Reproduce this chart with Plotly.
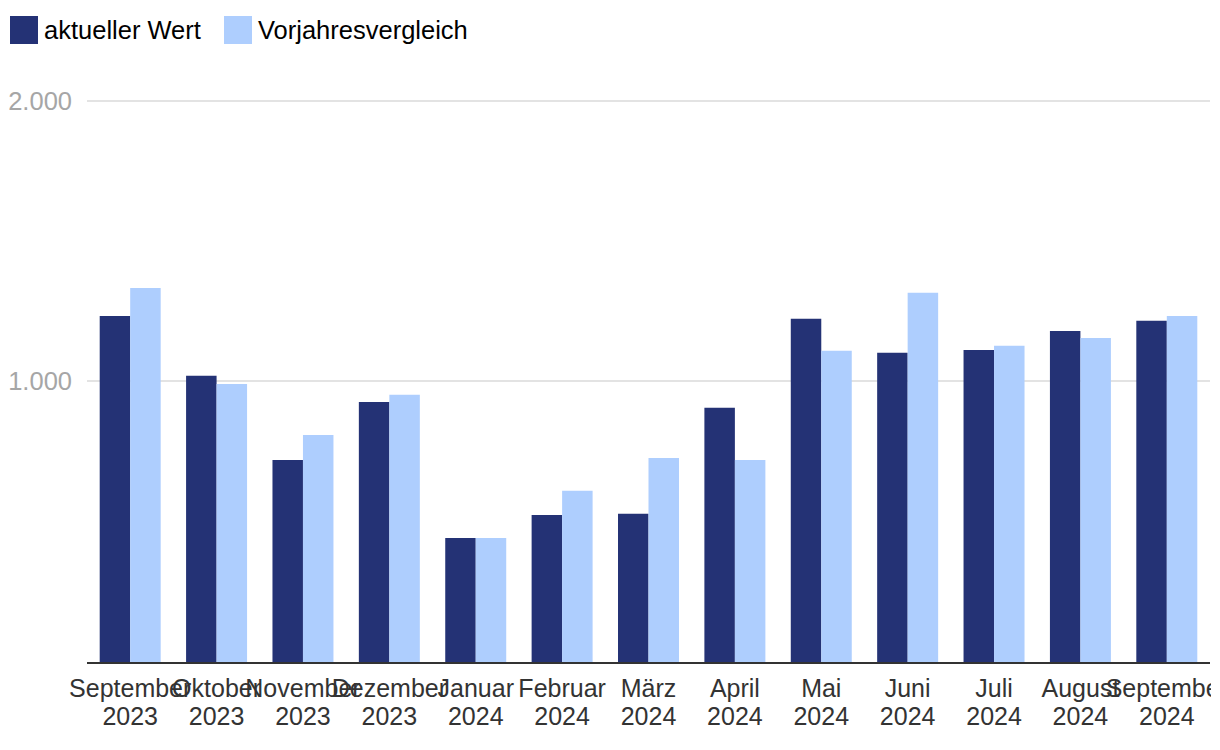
import plotly.graph_objects as go

months = ["September", "Oktober", "November", "Dezember", "Januar", "Februar",
          "März", "April", "Mai", "Juni", "Juli", "August", "September"]
years = ["2023", "2023", "2023", "2023", "2024", "2024", "2024", "2024",
         "2024", "2024", "2024", "2024", "2024"]
current = [1233, 1020, 720, 927, 442, 524, 528, 906, 1223, 1102, 1112, 1180, 1216]
previous = [1333, 991, 809, 952, 442, 610, 727, 720, 1109, 1316, 1127, 1155, 1233]
series_names = ["aktueller Wert", "Vorjahresvergleich"]
colors = ["#243275", "#aecefe"]
ytick_vals = [1000, 2000]

FONT = "Liberation Sans, Arial, sans-serif"
FS = 25.5
FS_TICK = 25

idx = list(range(len(months)))
xr = [-0.5, len(months) - 0.5]

fig = go.Figure()
for name, vals, col in zip(series_names, [current, previous], colors):
    fig.add_trace(go.Bar(x=idx, y=vals, name=name,
                         marker=dict(color=col, line=dict(width=0)),
                         showlegend=False))
# invisible carrier trace so the year axis is drawn
fig.add_trace(go.Scatter(x=idx, y=current, xaxis="x2", yaxis="y", mode="markers",
                         marker=dict(opacity=0), hoverinfo="skip", showlegend=False))

W, H = 1220, 750
ml, mr, mt, mb = 87, 10, 98, 88
pw, ph = W - ml - mr, H - mt - mb

def px(x):
    return (x - ml) / pw

def py(y):
    return (H - mb - y) / ph

# legend drawn as shapes + text
legend_x = [10, 224]
for lx, name, col in zip(legend_x, series_names, colors):
    fig.add_shape(type="rect", xref="paper", yref="paper",
                  x0=px(lx), x1=px(lx + 28), y0=py(44), y1=py(16),
                  fillcolor=col, line=dict(width=0), layer="above")
    fig.add_annotation(xref="paper", yref="paper", x=px(lx + 32), y=py(30),
                       text=name, showarrow=False, xanchor="left", yanchor="middle",
                       font=dict(family=FONT, size=FS, color="#000000"))

# clip overflow of last tick labels at the plot edge
fig.add_shape(type="rect", xref="paper", yref="paper",
              x0=px(1211), x1=px(1240), y0=py(760), y1=py(666),
              fillcolor="white", line=dict(width=0), layer="above")

fig.update_layout(
    width=W, height=H,
    margin=dict(l=ml, r=mr, t=mt, b=mb, pad=0, autoexpand=False),
    paper_bgcolor="white", plot_bgcolor="white",
    barmode="group", bargap=0.294, bargroupgap=0,
    separators=",.",
    font=dict(family=FONT),
    xaxis=dict(
        tickmode="array", tickvals=idx, ticktext=months,
        range=xr, tickangle=0, automargin=False, ticklabeloverflow="allow",
        showline=True, linecolor="#333333", linewidth=2,
        showgrid=False, zeroline=False, ticks="", ticklabelstandoff=3,
        tickfont=dict(family=FONT, size=FS_TICK, color="#333333"),
    ),
    xaxis2=dict(
        overlaying="x", anchor="y", side="bottom",
        tickmode="array", tickvals=idx, ticktext=years,
        range=xr, tickangle=0, automargin=False, ticklabeloverflow="allow",
        showgrid=False, showline=False, zeroline=False,
        ticks="", ticklabelstandoff=37,
        tickfont=dict(family=FONT, size=FS_TICK, color="#333333"),
    ),
    yaxis=dict(
        range=[0, 2010], tickvals=ytick_vals, tickformat=",d", automargin=False,
        showgrid=True, gridcolor="#e3e3e3", gridwidth=1.5,
        zeroline=False, showline=False, ticks="", ticklabelstandoff=14,
        tickfont=dict(family=FONT, size=FS, color="#a6a6a6"),
    ),
)

fig.write_html("out.html")
